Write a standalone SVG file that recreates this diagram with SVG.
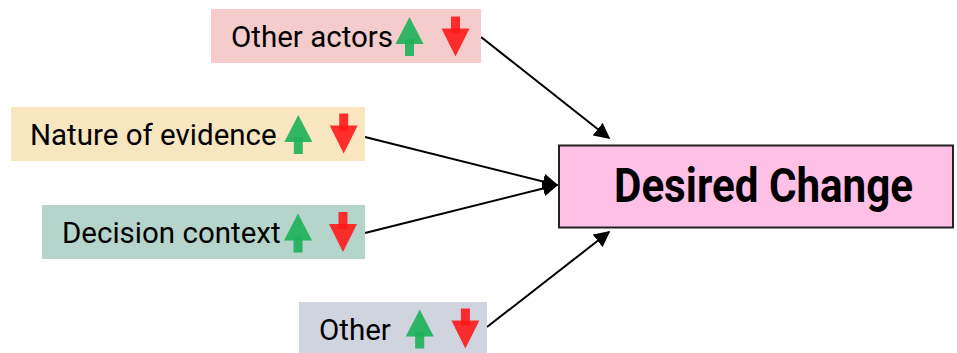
<svg xmlns="http://www.w3.org/2000/svg" width="957" height="353" viewBox="0 0 957 353">
<style>
.lbl{font-family:Roboto,"Liberation Sans",sans-serif;font-size:29.5px;fill:#000}
.up{fill:#1fb25a;opacity:0.92}
.dn{fill:#ff1a1a;opacity:0.9}
.conn{stroke:#000;stroke-width:2;fill:none}
</style>
<defs>
<marker id="ah2" viewBox="0 0 10 10" refX="9" refY="5" markerWidth="16" markerHeight="16" markerUnits="userSpaceOnUse" orient="auto">
<path d="M0,0 L10,5 L0,10 z" fill="#000"/>
</marker>
<g id="upArrow">
<rect x="-4.5" y="22" width="9" height="17" class="up"/>
<polygon points="0,0 14,27 -14,27" class="up"/>
</g>
<g id="dnArrow">
<rect x="-4.5" y="0" width="9" height="17" class="dn"/>
<polygon points="0,40 14,12 -14,12" class="dn"/>
</g>
</defs>
<g id="connectors">
<line x1="481" y1="37" x2="609" y2="138" class="conn" marker-end="url(#ah2)"/>
<line x1="365" y1="137" x2="557" y2="185" class="conn" marker-end="url(#ah2)"/>
<line x1="365" y1="233" x2="557" y2="185" class="conn" marker-end="url(#ah2)"/>
<line x1="487" y1="327" x2="609" y2="232" class="conn" marker-end="url(#ah2)"/>
</g>
<g id="other-actors">
<rect x="211" y="9" width="270" height="54" fill="#f4cccc"/>
<text x="231" y="47" class="lbl">Other actors</text>
<use href="#upArrow" x="409.5" y="17"/>
<use href="#dnArrow" x="455.5" y="16.5"/>
</g>
<g id="nature-of-evidence">
<rect x="11" y="107" width="354" height="54" fill="#f8e6c0"/>
<text x="30" y="145" class="lbl">Nature of evidence</text>
<use href="#upArrow" x="298.3" y="115"/>
<use href="#dnArrow" x="343.7" y="113.5"/>
</g>
<g id="decision-context">
<rect x="42" y="205" width="323" height="54" fill="#b5d5cc"/>
<text x="62" y="243" class="lbl">Decision context</text>
<use href="#upArrow" x="298" y="213.5"/>
<use href="#dnArrow" x="343" y="212"/>
</g>
<g id="other">
<rect x="299" y="302" width="188" height="51" fill="#cfd4df"/>
<text x="319" y="340" class="lbl">Other</text>
<use href="#upArrow" x="419.7" y="309.5"/>
<use href="#dnArrow" x="465.4" y="308.5"/>
</g>
<g id="desired-change">
<rect x="559" y="145.5" width="394" height="82" fill="#ffc0e6" stroke="#222" stroke-width="2"/>
<text x="763.5" y="202" text-anchor="middle" font-family="Roboto,'Liberation Sans',sans-serif" font-weight="bold" font-size="48" textLength="299" lengthAdjust="spacingAndGlyphs">Desired Change</text>
</g>
</svg>
